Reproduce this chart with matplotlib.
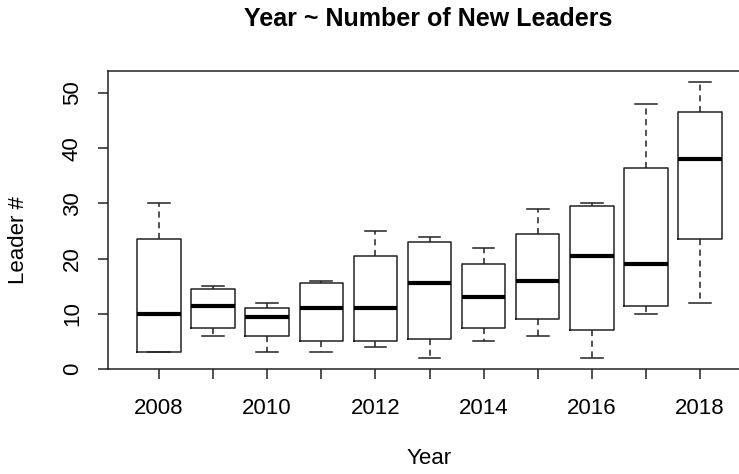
import matplotlib
matplotlib.use('Agg')
import matplotlib.pyplot as plt

plt.rcParams['font.family'] = ['Liberation Sans', 'DejaVu Sans']

years = [2008, 2009, 2010, 2011, 2012, 2013, 2014, 2015, 2016, 2017, 2018]
whislo = [3, 6, 3, 3, 4, 2, 5, 6, 2, 10, 12]
q1 = [3, 7.5, 6, 5, 5, 5.5, 7.5, 9, 7, 11.5, 23.5]
med = [10, 11.5, 9.5, 11, 11, 15.5, 13, 16, 20.5, 19, 38]
q3 = [23.5, 14.5, 11, 15.5, 20.5, 23, 19, 24.5, 29.5, 36.5, 46.5]
whishi = [30, 15, 12, 16, 25, 24, 22, 29, 30, 48, 52]

stats = []
for i, y in enumerate(years):
    stats.append({'whislo': whislo[i], 'q1': q1[i], 'med': med[i], 'q3': q3[i],
                  'whishi': whishi[i], 'fliers': [], 'label': str(y)})

fig = plt.figure(figsize=(7.39, 4.74), dpi=100)
ax = fig.add_axes([108 / 739, 105 / 474, 643 / 739, 298 / 474])

lc = '#222222'
ax.bxp(stats, positions=range(1, len(years) + 1), widths=0.8, capwidths=0.4,
       showfliers=False,
       boxprops=dict(color=lc, linewidth=1.1),
       whiskerprops=dict(color=lc, linewidth=1.1, linestyle=(0, (4, 3))),
       capprops=dict(color=lc, linewidth=1.1),
       medianprops=dict(color='black', linewidth=3.0, solid_capstyle='butt'))

ax.set_xlim(0.06, 11.94)
ax.set_ylim(0, 54)
ax.set_xticks(range(1, len(years) + 1))
ax.set_xticklabels([str(y) if y % 2 == 0 else '' for y in years])
ax.set_yticks([0, 10, 20, 30, 40, 50])
ax.set_yticklabels(['0', '10', '20', '30', '40', '50'], rotation=90, va='center')
ax.tick_params(axis='both', direction='out', length=7, width=1.1, color=lc,
               labelsize=16)
ax.tick_params(axis='x', pad=14)
ax.tick_params(axis='y', pad=11)
for s in ax.spines.values():
    s.set_color(lc)
    s.set_linewidth(1.1)

fig.text(428 / 739, 1 - 19 / 474, 'Year ~ Number of New Leaders', ha='center', va='center',
         fontsize=18, fontweight='bold')
fig.text(429 / 739, 1 - 459 / 474, 'Year', ha='center', va='center', fontsize=16)
fig.text(19 / 739, 1 - 240 / 474, 'Leader #', ha='center', va='center', fontsize=16,
         rotation=90)

fig.savefig('out.png', dpi=100)
